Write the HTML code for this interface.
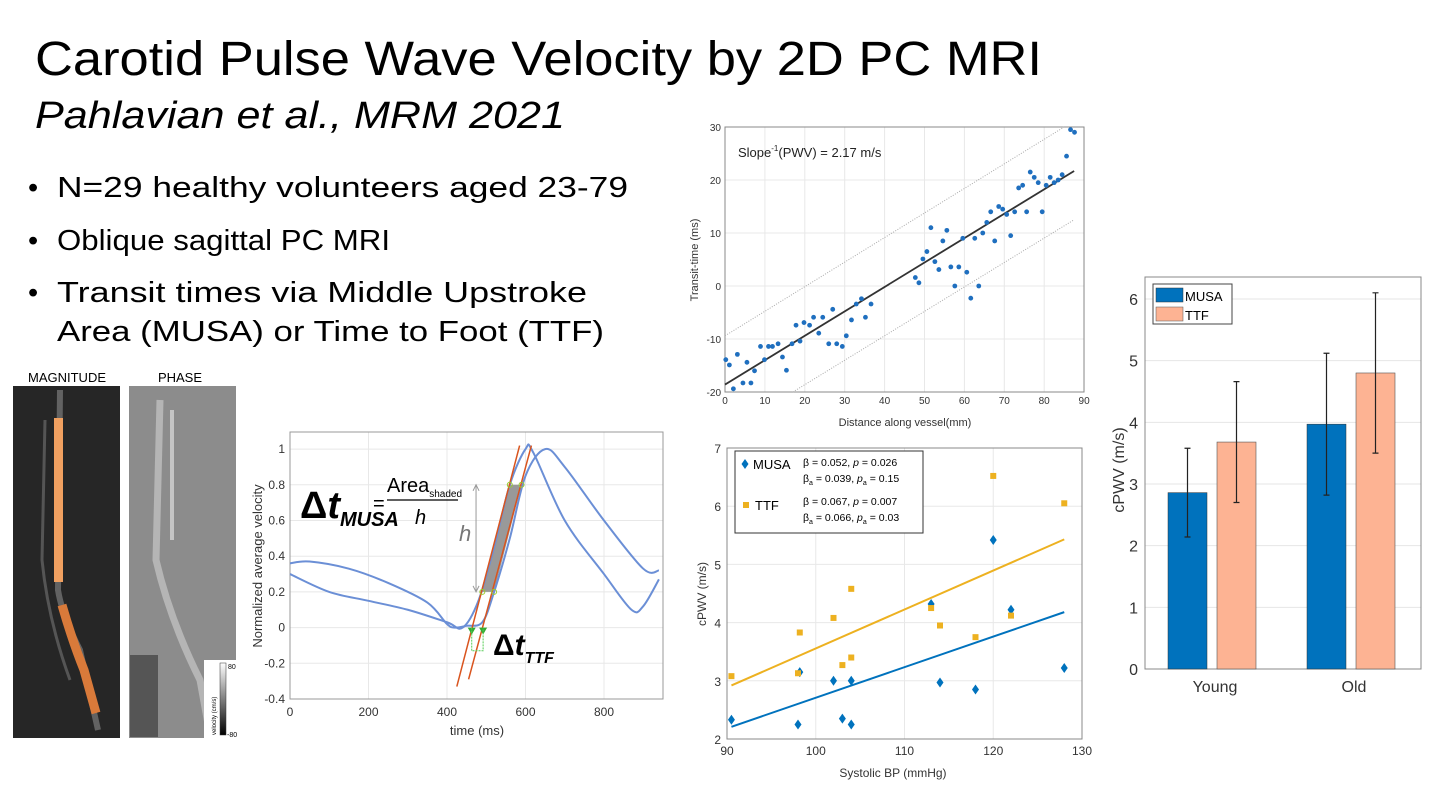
<!DOCTYPE html>
<html><head><meta charset="utf-8"><style>
html,body{margin:0;padding:0;background:#fff}
svg{display:block}
text{font-family:"Liberation Sans",sans-serif}
</style></head><body>
<svg id="s" width="1434" height="804" viewBox="0 0 1434 804" xmlns="http://www.w3.org/2000/svg">
<text x="35" y="75" font-size="48" textLength="1007" lengthAdjust="spacingAndGlyphs" fill="#000">Carotid Pulse Wave Velocity by 2D PC MRI</text>
<text x="35" y="128" font-size="38" font-style="italic" textLength="530" lengthAdjust="spacingAndGlyphs">Pahlavian et al., MRM 2021</text>
<g font-size="29">
<text x="28" y="197">•</text><text x="57" y="197" textLength="571" lengthAdjust="spacingAndGlyphs">N=29 healthy volunteers aged 23-79</text>
<text x="28" y="250">•</text><text x="57" y="250" textLength="333" lengthAdjust="spacingAndGlyphs">Oblique sagittal PC MRI</text>
<text x="28" y="302">•</text><text x="57" y="302" textLength="530" lengthAdjust="spacingAndGlyphs">Transit times via Middle Upstroke</text>
<text x="57" y="341" textLength="547" lengthAdjust="spacingAndGlyphs">Area (MUSA) or Time to Foot (TTF)</text>
</g>
<!-- MRI images -->
<g>
<text x="67" y="382" font-size="13" text-anchor="middle">MAGNITUDE</text>
<text x="180" y="382" font-size="13" text-anchor="middle">PHASE</text>
<rect x="13" y="386" width="107" height="352" fill="#262626"/>
<path d="M60 390 L58 590 Q62 615 80 650 L98 730" stroke="#8a8a8a" stroke-width="6" fill="none" opacity="0.6"/>
<path d="M45 420 L42 560 Q48 620 70 680" stroke="#555" stroke-width="3" fill="none"/>
<rect x="54" y="418" width="9" height="164" fill="#f0a060"/>
<path d="M62 605 Q72 640 84 670 L96 713" stroke="#d97a3a" stroke-width="9" fill="none"/>
<rect x="129" y="386" width="107" height="352" fill="#8c8c8c"/>
<path d="M160 400 L156 560 Q170 620 200 680 L210 735" stroke="#b5b5b5" stroke-width="7" fill="none"/>
<path d="M172 410 L172 540" stroke="#c5c5c5" stroke-width="4" fill="none"/>
<rect x="130" y="655" width="28" height="82" fill="#555"/>
<rect x="204" y="660" width="32" height="78" fill="#fff"/>
<defs><linearGradient id="cb" x1="0" y1="0" x2="0" y2="1"><stop offset="0" stop-color="#fff"/><stop offset="1" stop-color="#000"/></linearGradient></defs>
<rect x="220" y="663" width="6" height="72" fill="url(#cb)" stroke="#333" stroke-width="0.5"/>
<text x="228" y="669" font-size="7">80</text><text x="227" y="737" font-size="7">-80</text>
<text transform="translate(216,735) rotate(-90)" font-size="6">velocity (cm/s)</text>
</g>
<g id="c1"></g>
<g id="c2"></g>
<g id="c3"></g>
<g id="c4"></g>
</svg>
<script>
// ---- chart 1 data ----
const curveA_t=[0,100,200,300,400,440,480,520,560,600,620,700,800,870,900,940];
const curveA_v=[0.3,0.2,0.15,0.1,0.03,0.0,0.15,0.45,0.8,1.0,0.98,0.6,0.3,0.1,0.12,0.27];
const curveB_t=[0,50,150,250,350,400,420,450,490,520,560,600,650,700,800,900,940];
const curveB_v=[0.36,0.37,0.33,0.25,0.14,0.02,0.0,0.01,0.03,0.2,0.5,0.85,1.0,0.9,0.6,0.33,0.32];
const c1XTicks=[0,200,400,600,800];
const c1YTicks=[-0.4,-0.2,0,0.2,0.4,0.6,0.8,1];
// ---- chart 2 data ----
const distMm=[0.2,1.1,2.1,3.1,4.5,5.5,6.5,7.4,8.9,9.9,10.9,11.9,13.3,14.4,15.4,16.8,17.8,18.8,19.8,21.2,22.2,23.5,24.5,26,27,28,29.4,30.4,31.7,32.9,34.2,35.2,36.6,47.7,48.6,49.6,50.6,51.6,52.6,53.6,54.6,55.6,56.6,57.6,58.6,59.6,60.6,61.6,62.6,63.6,64.6,65.6,66.6,67.6,68.6,69.6,70.6,71.6,72.6,73.6,74.6,75.6,76.5,77.5,78.5,79.5,80.5,81.5,82.5,83.5,84.5,85.6,86.6,87.6];
const transitMs=[-13.9,-14.9,-19.4,-12.9,-18.3,-14.4,-18.3,-16,-11.4,-13.9,-11.4,-11.4,-10.9,-13.4,-15.9,-10.9,-7.4,-10.4,-6.9,-7.4,-5.9,-8.9,-5.9,-10.9,-4.4,-10.9,-11.4,-9.4,-6.4,-3.4,-2.4,-5.9,-3.4,1.6,0.6,5.1,6.5,11,4.6,3.1,8.5,10.5,3.6,0,3.6,9,2.6,-2.3,9,0,10,12,14,8.5,15,14.5,13.5,9.5,14,18.5,19,14,21.5,20.5,19.5,14,19,20.5,19.5,20,21,24.5,29.5,29];
const fitX=[0,87.5], fitY=[-18.6,21.7];
const upperX=[0,85], upperY=[-9.4,30];
const lowerX=[17,87.5], lowerY=[-20,12.5];
const c2XTicks=[0,10,20,30,40,50,60,70,80,90];
const c2YTicks=[-20,-10,0,10,20,30];
// ---- chart 3 data ----
const sbp=[90.5,98,98.2,102,103,104,104,113,114,118,120,122,128];
const musaPwv=[2.33,2.25,3.15,3.0,2.35,3.0,2.25,4.32,2.97,2.85,5.42,4.22,3.22];
const ttfPwv=[3.08,3.13,3.83,4.08,3.27,3.4,4.58,4.25,3.95,3.75,6.52,4.12,6.05];
const musaFitX=[90.5,128], musaFitY=[2.21,4.18];
const ttfFitX=[90.5,128], ttfFitY=[2.92,5.43];
const c3XTicks=[90,100,110,120,130];
const c3YTicks=[2,3,4,5,6,7];
// ---- chart 4 data ----
const groups=["Young","Old"];
const musaMean=[2.86,3.97], musaLo=[2.14,2.82], musaHi=[3.58,5.12];
const ttfMean=[3.68,4.80], ttfLo=[2.70,3.50], ttfHi=[4.66,6.10];
const c4YTicks=[0,1,2,3,4,5,6];

const NS="http://www.w3.org/2000/svg";
function mk(p,tag,a){const e=document.createElementNS(NS,tag);for(const k in a)e.setAttribute(k,a[k]);p.appendChild(e);return e;}
function smooth(pts){let d="M"+pts[0][0]+" "+pts[0][1];for(let i=0;i<pts.length-1;i++){const p0=pts[i-1]||pts[i],p1=pts[i],p2=pts[i+1],p3=pts[i+2]||p2;d+=" C"+(p1[0]+(p2[0]-p0[0])/6)+" "+(p1[1]+(p2[1]-p0[1])/6)+" "+(p2[0]-(p3[0]-p1[0])/6)+" "+(p2[1]-(p3[1]-p1[1])/6)+" "+p2[0]+" "+p2[1];}return d;}

// ===== chart 1 =====
(function(){
const g=document.getElementById('c1');
const X=t=>290+t*0.3925, Y=v=>627.6-v*178.5;
const L=290,R=663,T=432,B=699;
c1XTicks.forEach(t=>{const l=mk(g,'line',{x1:X(t),x2:X(t),y1:T,y2:B,stroke:'#e8e8e8'});


const tx=mk(g,'text',{x:X(t),y:B+17,'font-size':12,'text-anchor':'middle',fill:'#333'});tx.textContent=t;

});
c1YTicks.forEach(v=>{const l=mk(g,'line',{x1:L,x2:R,y1:Y(v),y2:Y(v),stroke:'#e8e8e8'});


const tx=mk(g,'text',{x:L-5,y:Y(v)+4,'font-size':12,'text-anchor':'end',fill:'#333'});tx.textContent=v;

});
const ax=mk(g,'rect',{x:L,y:T,width:R-L,height:B-T,fill:'none',stroke:'#999'});


const sh=mk(g,'polygon',{points:[[X(490),Y(0.2)],[X(520),Y(0.2)],[X(590),Y(0.8)],[X(560),Y(0.8)]].map(p=>p.join(',')).join(' '),fill:'#999'});


const pa=mk(g,'path',{d:smooth(curveA_t.map((t,i)=>[X(t),Y(curveA_v[i])])),stroke:'#6b8fd6','stroke-width':2,fill:'none'});


const pb=mk(g,'path',{d:smooth(curveB_t.map((t,i)=>[X(t),Y(curveB_v[i])])),stroke:'#6b8fd6','stroke-width':2,fill:'none'});


const r1=mk(g,'line',{x1:X(425),y1:Y(-0.33),x2:X(585),y2:Y(1.02),stroke:'#d9541e','stroke-width':1.5});


const r2=mk(g,'line',{x1:X(455),y1:Y(-0.29),x2:X(615),y2:Y(1.02),stroke:'#d9541e','stroke-width':1.5});


[[490,0.2],[520,0.2],[590,0.8],[560,0.8]].forEach(p=>{const c=mk(g,'circle',{cx:X(p[0]),cy:Y(p[1]),r:2.5,fill:'none',stroke:'#9c3'});

});
const ar=mk(g,'path',{d:`M${X(474)} ${Y(0.2)} V${Y(0.8)} M${X(474)-3} ${Y(0.8)+6} L${X(474)} ${Y(0.8)} L${X(474)+3} ${Y(0.8)+6} M${X(474)-3} ${Y(0.2)-6} L${X(474)} ${Y(0.2)} L${X(474)+3} ${Y(0.2)-6}`,stroke:'#999',fill:'none'});


[463,492].forEach(t=>{const tr=mk(g,'polygon',{points:`${X(t)-4},${Y(0)} ${X(t)+4},${Y(0)} ${X(t)},${Y(0)+7}`,fill:'#3a3'});

});
const br=mk(g,'path',{d:`M${X(463)} ${Y(0)} V${Y(-0.13)} H${X(492)} V${Y(0)}`,stroke:'#5c5',fill:'none','stroke-dasharray':'2,1'});


})();
</script>
<svg style="position:absolute;left:0;top:0" width="1434" height="804">
<g font-family="Liberation Sans, sans-serif">
<text x="300" y="518" font-size="38" font-style="italic" font-weight="bold"><tspan font-style="normal">Δ</tspan>t<tspan font-size="20" dy="8">MUSA</tspan></text>
<text x="373" y="510" font-size="20">=</text>
<text x="387" y="492" font-size="20">Area<tspan font-size="10" dy="5">shaded</tspan></text>
<line x1="387" y1="500" x2="458" y2="500" stroke="#000" stroke-width="1.2"/>
<text x="415" y="524" font-size="20" font-style="italic">h</text>
<text x="459" y="541" font-size="22" font-style="italic" fill="#777">h</text>
<text x="493" y="655" font-size="30" font-style="italic" font-weight="bold"><tspan font-style="normal">Δ</tspan>t<tspan font-size="16" dy="8">TTF</tspan></text>
<text x="477" y="735" font-size="13" text-anchor="middle" fill="#333">time (ms)</text>
<text transform="translate(262,566) rotate(-90)" font-size="13" text-anchor="middle" fill="#333">Normalized average velocity</text>
</g></svg>
<script>
// ===== chart 2 =====
(function(){
const g=document.getElementById('c2');
const X=d=>725+d*3.99, Y=v=>286-v*5.3;
const L=725,R=1084,T=127,B=392;
c2XTicks.forEach(t=>{const l=mk(g,'line',{x1:X(t),x2:X(t),y1:T,y2:B,stroke:'#e8e8e8'});


const tx=mk(g,'text',{x:X(t),y:B+12,'font-size':10,'text-anchor':'middle',fill:'#333'});tx.textContent=t;

});
c2YTicks.forEach(v=>{const l=mk(g,'line',{x1:L,x2:R,y1:Y(v),y2:Y(v),stroke:'#e8e8e8'});


const tx=mk(g,'text',{x:L-4,y:Y(v)+4,'font-size':10,'text-anchor':'end',fill:'#333'});tx.textContent=v;

});
const ax=mk(g,'rect',{x:L,y:T,width:R-L,height:B-T,fill:'none',stroke:'#888'});


const u=mk(g,'line',{x1:X(upperX[0]),y1:Y(upperY[0]),x2:X(upperX[1]),y2:Y(upperY[1]),stroke:'#aaa','stroke-dasharray':'1,1.5'});


const lo=mk(g,'line',{x1:X(lowerX[0]),y1:Y(lowerY[0]),x2:X(lowerX[1]),y2:Y(lowerY[1]),stroke:'#aaa','stroke-dasharray':'1,1.5'});


const f=mk(g,'line',{x1:X(fitX[0]),y1:Y(fitY[0]),x2:X(fitX[1]),y2:Y(fitY[1]),stroke:'#333','stroke-width':1.8});


distMm.forEach((d,i)=>{const c=mk(g,'circle',{cx:X(d),cy:Y(transitMs[i]),r:2.4,fill:'#1f6fbf'});

});
const an=mk(g,'text',{x:738,y:157,'font-size':13,fill:'#222'});an.innerHTML='Slope<tspan font-size="8" dy="-6">-1</tspan><tspan dy="6">(PWV) = 2.17 m/s</tspan>';


const xt=mk(g,'text',{x:905,y:426,'font-size':11,'text-anchor':'middle',fill:'#333'});xt.textContent='Distance along vessel(mm)';


const yt=mk(g,'text',{transform:'translate(698,260) rotate(-90)','font-size':11,'text-anchor':'middle',fill:'#333'});yt.textContent='Transit-time (ms)';


})();
// ===== chart 3 =====
(function(){
const g=document.getElementById('c3');
const X=b=>727+(b-90)*8.875, Y=v=>739-(v-2)*58.2;
const L=727,R=1082,T=448,B=739;
c3XTicks.forEach(t=>{const l=mk(g,'line',{x1:X(t),x2:X(t),y1:T,y2:B,stroke:'#e8e8e8'});


const tx=mk(g,'text',{x:X(t),y:B+16,'font-size':12,'text-anchor':'middle',fill:'#333'});tx.textContent=t;

});
c3YTicks.forEach(v=>{const l=mk(g,'line',{x1:L,x2:R,y1:Y(v),y2:Y(v),stroke:'#e8e8e8'});


const tx=mk(g,'text',{x:L-6,y:Y(v)+5,'font-size':12,'text-anchor':'end',fill:'#333'});tx.textContent=v;

});
const ax=mk(g,'rect',{x:L,y:T,width:R-L,height:B-T,fill:'none',stroke:'#888'});


const tl=mk(g,'line',{x1:X(ttfFitX[0]),y1:Y(ttfFitY[0]),x2:X(ttfFitX[1]),y2:Y(ttfFitY[1]),stroke:'#edb120','stroke-width':2});


const ml=mk(g,'line',{x1:X(musaFitX[0]),y1:Y(musaFitY[0]),x2:X(musaFitX[1]),y2:Y(musaFitY[1]),stroke:'#0072bd','stroke-width':2});


sbp.forEach((b,i)=>{const x=X(b),y=Y(musaPwv[i]);const d=mk(g,'polygon',{points:`${x},${y-5} ${x+3.5},${y} ${x},${y+5} ${x-3.5},${y}`,fill:'#0072bd'});

});
sbp.forEach((b,i)=>{const s=mk(g,'rect',{x:X(b)-3,y:Y(ttfPwv[i])-3,width:6,height:6,fill:'#edb120'});

});
const lg=mk(g,'g',{});


mk(lg,'rect',{x:735,y:451,width:188,height:82,fill:'#fff',stroke:'#333'});
mk(lg,'polygon',{points:'745,459 748.5,464 745,469 741.5,464',fill:'#0072bd'});
mk(lg,'rect',{x:743,y:502,width:6,height:6,fill:'#edb120'});
const t1=mk(lg,'text',{x:753,y:469,'font-size':13});t1.textContent='MUSA';


const t2=mk(lg,'text',{x:755,y:510,'font-size':13});t2.textContent='TTF';


const st=[[803,466,'β = 0.052, <tspan font-style="italic">p</tspan> = 0.026'],[803,482,'β<tspan font-size="7" dy="3">a</tspan><tspan dy="-3"> = 0.039, </tspan><tspan font-style="italic">p</tspan><tspan font-size="7" dy="3">a</tspan><tspan dy="-3"> = 0.15</tspan>'],[803,505,'β = 0.067, <tspan font-style="italic">p</tspan> = 0.007'],[803,521,'β<tspan font-size="7" dy="3">a</tspan><tspan dy="-3"> = 0.066, </tspan><tspan font-style="italic">p</tspan><tspan font-size="7" dy="3">a</tspan><tspan dy="-3"> = 0.03</tspan>']];
st.forEach(s=>{const t=mk(lg,'text',{x:s[0],y:s[1],'font-size':10.5});t.innerHTML=s[2];

});
const xt=mk(g,'text',{x:893,y:777,'font-size':12,'text-anchor':'middle',fill:'#333'});xt.textContent='Systolic BP (mmHg)';


const yt=mk(g,'text',{transform:'translate(706,594) rotate(-90)','font-size':12,'text-anchor':'middle',fill:'#333'});yt.textContent='cPWV (m/s)';


})();
// ===== chart 4 =====
(function(){
const g=document.getElementById('c4');
const Y=v=>669-v*61.67;
const L=1145,R=1421,T=277,B=669;
const gx=[1212,1351];
c4YTicks.forEach(v=>{const l=mk(g,'line',{x1:L,x2:R,y1:Y(v),y2:Y(v),stroke:'#e6e6e6'});


const tx=mk(g,'text',{x:L-7,y:Y(v)+6,'font-size':16,'text-anchor':'end',fill:'#333'});tx.textContent=v;

});
const ax=mk(g,'rect',{x:L,y:T,width:R-L,height:B-T,fill:'none',stroke:'#888'});


groups.forEach((nm,i)=>{
const b1=mk(g,'rect',{x:gx[i]-44,y:Y(musaMean[i]),width:39,height:B-Y(musaMean[i]),fill:'#0072bd',stroke:'#333','stroke-width':0.5});


const b2=mk(g,'rect',{x:gx[i]+5,y:Y(ttfMean[i]),width:39,height:B-Y(ttfMean[i]),fill:'#fdb393',stroke:'#555','stroke-width':0.6});


[[gx[i]-24.5,musaLo[i],musaHi[i]],[gx[i]+24.5,ttfLo[i],ttfHi[i]]].forEach(e=>{
const eb=mk(g,'path',{d:`M${e[0]} ${Y(e[1])} V${Y(e[2])} M${e[0]-3} ${Y(e[1])} h6 M${e[0]-3} ${Y(e[2])} h6`,stroke:'#222','stroke-width':1.2,fill:'none'});

});
const tx=mk(g,'text',{x:gx[i]+3,y:692,'font-size':16,'text-anchor':'middle',fill:'#333'});tx.textContent=nm;


});
const lg=mk(g,'g',{});


mk(lg,'rect',{x:1153,y:284,width:79,height:40,fill:'#fff',stroke:'#444'});
mk(lg,'rect',{x:1156,y:288,width:27,height:14,fill:'#0072bd',stroke:'#333','stroke-width':0.5});
mk(lg,'rect',{x:1156,y:307,width:27,height:14,fill:'#fdb393',stroke:'#555','stroke-width':0.5});
const t1=mk(lg,'text',{x:1185,y:301,'font-size':13});t1.textContent='MUSA';


const t2=mk(lg,'text',{x:1185,y:320,'font-size':13});t2.textContent='TTF';


const yt=mk(g,'text',{transform:'translate(1124,470) rotate(-90)','font-size':16,'text-anchor':'middle',fill:'#333'});yt.textContent='cPWV (m/s)';


})();
</script>
</body></html>
